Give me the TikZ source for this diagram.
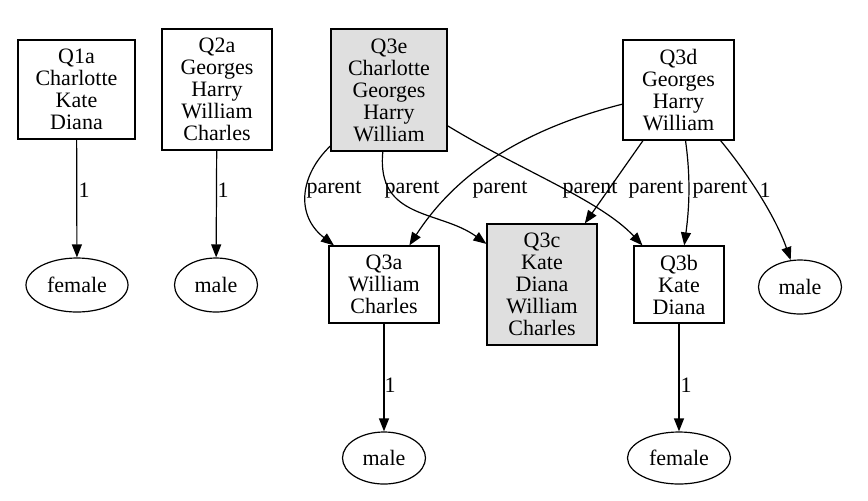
\documentclass[tikz,border=0pt]{standalone}
\usepackage{fontspec}
\setmainfont{Liberation Serif}
\usetikzlibrary{arrows.meta,shapes.geometric}

\tikzset{
    box/.style={draw, rectangle, align=center, inner sep=0pt, font=\fontsize{11}{11}\selectfont},
    graybox/.style={box, fill=gray!25},
    oval/.style={draw, ellipse, inner sep=0pt, font=\fontsize{11}{11}\selectfont},
    lbl/.style={inner sep=0pt, font=\fontsize{11}{11}\selectfont}
}

\begin{document}
\begin{tikzpicture}[>={Triangle[length=6.5pt,width=5pt]}, line width=.6pt, x=.5pt, y=-.5pt]
    
    \useasboundingbox (0,0) rectangle (868,500);
    
    % the query boxes
    \node[box, minimum width=58.5pt, minimum height=49.5pt] (q1a) at (76.5,89.5) {Q1a\\Charlotte\\Kate\\Diana};
    \node[box, minimum width=55pt, minimum height=60.5pt] (q2a) at (217,89.5) {Q2a\\Georges\\Harry\\William\\Charles};
    \node[graybox, minimum width=58pt, minimum height=61pt] (q3e) at (389,90) {Q3e\\Charlotte\\Georges\\Harry\\William};
    \node[box, minimum width=55.5pt, minimum height=50pt] (q3d) at (678.5,90) {Q3d\\Georges\\Harry\\William};
    \node[box, minimum width=55pt, minimum height=38.5pt] (q3a) at (384,284.5) {Q3a\\William\\Charles};
    \node[graybox, minimum width=55pt, minimum height=60.5pt] (q3c) at (542,284.5) {Q3c\\Kate\\Diana\\William\\Charles};
    \node[box, minimum width=45pt, minimum height=38.5pt] (q3b) at (679,284.5) {Q3b\\Kate\\Diana};
    
    % the values
    \node[oval, minimum width=51pt, minimum height=27pt] (female1) at (77,285) {female};
    \node[oval, minimum width=41.5pt, minimum height=27pt] (male1) at (216,285) {male};
    \node[oval, minimum width=41.5pt, minimum height=27pt] (male2) at (800,287) {male};
    \node[oval, minimum width=41.5pt, minimum height=26pt] (male3) at (384,458) {male};
    \node[oval, minimum width=51.5pt, minimum height=26pt] (female2) at (679,458) {female};
    
    \draw[->] (q1a) -- (female1) node[lbl, anchor=west] at (78,190) {1};
    \draw[->] (q2a) -- (male1) node[lbl, anchor=west] at (217,190) {1};
    \draw[->] (q3a) -- (male3) node[lbl, anchor=west] at (384,385) {1};
    \draw[->] (q3b) -- (female2) node[lbl, anchor=west] at (680,385) {1};
    
    \draw[->] (q3e) .. controls (300,175) and (295,215) .. (q3a) node[lbl] at (334,190) {parent};
    \draw[->] (q3e) .. controls (376,220) and (440,210) .. (q3c) node[lbl] at (412,190) {parent};
    \draw[->] (q3d) .. controls (520,130) and (455,175) .. (q3a) node[lbl] at (500,190) {parent};
    \draw[->] (q3e) .. controls (520,170) and (600,200) .. (q3b) node[lbl] at (590,190) {parent};
    \draw[->] (q3d) -- (q3c) node[lbl] at (656,190) {parent};
    \draw[->] (q3d) .. controls (691,180) and (689,210) .. (q3b) node[lbl] at (720,190) {parent};
    \draw[->] (q3d) .. controls (745,170) and (775,215) .. (male2) node[lbl] at (765,190) {1};
    
\end{tikzpicture}
\end{document}
